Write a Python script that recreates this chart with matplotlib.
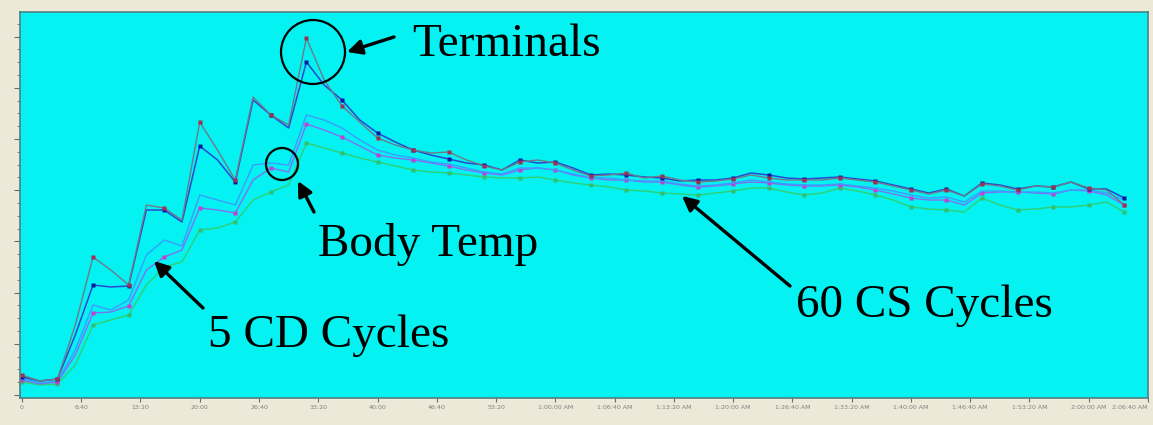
import numpy as np
import matplotlib.pyplot as plt
from matplotlib.patches import Circle
from matplotlib.ticker import MultipleLocator

# sample times (seconds), one reading every 2 minutes
time_s = np.arange(0, 7441, 120)

# readings (raw sensor counts, axis is unlabeled)
terminal_a = [25, 19, 21, 75, 143, 130, 115, 195, 192, 180, 278, 250, 220, 303, 285, 275,
              362, 320, 294, 278, 262, 255, 250, 247, 248, 240, 234, 230, 238, 240, 237, 230,
              224, 225, 227, 222, 224, 220, 218, 219, 221, 225, 222, 220, 220, 220, 222, 220,
              218, 214, 210, 206, 210, 204, 216, 214, 210, 214, 213, 218, 212, 210, 195]
terminal_b = [23, 19, 21, 65, 115, 113, 114, 190, 190, 178, 254, 240, 218, 300, 285, 272,
              338, 315, 300, 280, 267, 258, 250, 245, 241, 237, 235, 230, 240, 237, 238, 232,
              225, 226, 225, 223, 222, 219, 220, 220, 222, 227, 225, 222, 221, 222, 223, 221,
              219, 215, 211, 207, 211, 204, 217, 215, 211, 214, 213, 218, 211, 211, 202]
body_a = [21, 17, 19, 50, 95, 90, 100, 145, 160, 154, 205, 200, 195, 235, 237, 235,
          285, 280, 272, 260, 250, 245, 242, 238, 236, 232, 228, 226, 232, 232, 230, 226,
          222, 222, 220, 219, 219, 216, 214, 215, 217, 220, 218, 216, 215, 215, 216, 214,
          212, 209, 205, 202, 203, 198, 209, 209, 208, 208, 207, 210, 210, 207, 200]
body_b = [20, 16, 18, 45, 87, 88, 94, 130, 143, 150, 192, 190, 187, 220, 232, 228,
          276, 270, 263, 254, 245, 242, 240, 237, 234, 230, 227, 225, 230, 232, 230, 225,
          222, 220, 220, 218, 218, 215, 213, 214, 216, 218, 217, 215, 214, 214, 215, 213,
          210, 206, 202, 200, 200, 195, 207, 208, 208, 207, 206, 210, 209, 205, 195]
body_c = [18, 15, 16, 35, 75, 80, 85, 115, 133, 138, 170, 172, 178, 200, 208, 215,
          257, 252, 247, 242, 238, 234, 230, 228, 227, 225, 223, 222, 222, 223, 220, 217,
          215, 213, 210, 209, 207, 206, 205, 207, 209, 212, 212, 208, 205, 207, 212, 209,
          205, 200, 193, 191, 190, 188, 202, 195, 190, 191, 193, 193, 195, 198, 188]

tick_seconds = np.arange(0, 7601, 400)
tick_labels = ['0', '6:40', '13:20', '20:00', '26:40', '33:20', '40:00', '46:40', '53:20',
               '1:00:00 AM', '1:06:40 AM', '1:13:20 AM', '1:20:00 AM', '1:26:40 AM',
               '1:33:20 AM', '1:40:00 AM', '1:46:40 AM', '1:53:20 AM', '2:00:00 AM',
               '2:06:40 AM']

W, H = 1153, 425
fig = plt.figure(figsize=(W / 100, H / 100), dpi=100, facecolor='#ECE9D8')
ax = fig.add_axes([20 / W, 27 / H, 1128 / W, 386 / H])
ax.set_facecolor('#04F2F2')

# lowest first so the terminal traces sit on top
ax.plot(time_s, body_c, color='#30D070', lw=1.0, marker='s', ms=2.2, markevery=2,
        mfc='#30C070', mec='none')
ax.plot(time_s, body_b, color='#8070F0', lw=1.0, marker='s', ms=2.6, markevery=2,
        mfc='#C040D0', mec='none')
ax.plot(time_s, body_a, color='#3A9CFF', lw=1.0)
ax.plot(time_s, terminal_b, color='#2848D0', lw=1.1, marker='s', ms=2.8, markevery=2,
        mfc='#0818A0', mec='none')
ax.plot(time_s, terminal_a, color='#6E7A88', lw=1.0, marker='s', ms=2.8, markevery=2,
        mfc='#A03050', mec='none')

ax.set_xlim(-13, 7600)
ax.set_ylim(2, 388)
ax.set_xticks(tick_seconds)
ax.set_xticklabels(tick_labels)
ax.get_xticklabels()[-1].set_ha('right')
ax.yaxis.set_major_locator(MultipleLocator(51.2, offset=5))
ax.yaxis.set_minor_locator(MultipleLocator(12.8, offset=5))
ax.tick_params(axis='x', length=3, width=0.8, color='#607070', labelsize=4.5,
               labelcolor='#808080', pad=2)
ax.tick_params(axis='y', which='major', length=4, width=0.8, color='#607070', labelleft=False)
ax.tick_params(axis='y', which='minor', length=2, width=0.6, color='#607070')
for side in ax.spines.values():
    side.set_color('#4F8080')
    side.set_linewidth(1.2)

# overlay in pixel coordinates for the callouts
ov = fig.add_axes([0, 0, 1, 1])
ov.set_xlim(0, W)
ov.set_ylim(H, 0)
ov.axis('off')
ov.patch.set_alpha(0)

ov.add_patch(Circle((313, 52), 32, fill=False, lw=1.6, color='black'))
ov.add_patch(Circle((282, 164), 16, fill=False, lw=1.6, color='black'))

arrow = dict(arrowstyle='-|>', lw=2.4, color='black', mutation_scale=22, shrinkA=0, shrinkB=0)
ov.annotate('', xy=(347, 52), xytext=(394, 37), arrowprops=arrow)
ov.annotate('', xy=(298, 181), xytext=(314, 212), arrowprops=arrow)
ov.annotate('', xy=(154, 261), xytext=(203, 308), arrowprops=arrow)
ov.annotate('', xy=(682, 196), xytext=(790, 286), arrowprops=arrow)

font = dict(fontsize=34, family='Liberation Serif', color='black', va='baseline', ha='left')
ov.text(412, 56, 'Terminals', **font)
ov.text(318, 256, 'Body Temp', **font)
ov.text(208, 347, '5 CD Cycles', **font)
ov.text(796, 317, '60 CS Cycles', **font)

fig.savefig('out.png', dpi=100, facecolor=fig.get_facecolor())
